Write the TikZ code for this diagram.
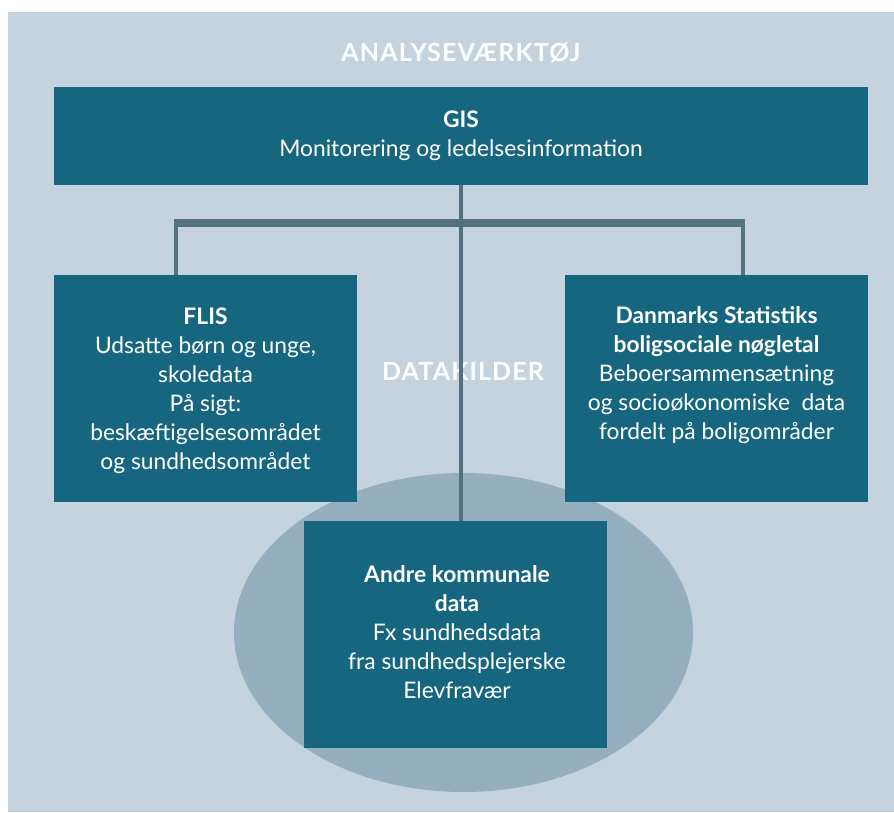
\documentclass[tikz,border=0pt]{standalone}
\usepackage{fontspec}
\setmainfont{Lato}
\newfontfamily\titlefont[LetterSpace=4.5]{Lato}
\definecolor{bgblue}{HTML}{C5D3DE}
\definecolor{boxteal}{HTML}{17667F}
\definecolor{linegrey}{HTML}{53717F}
\definecolor{ellgrey}{HTML}{94AFBD}
\tikzset{
  box/.style={fill=boxteal, draw=none, inner sep=0pt, outer sep=0pt},
  boxtext/.style={text=white, align=center, font=\fontsize{22.8}{29}\selectfont, inner sep=0pt},
  heading/.style={text=white, font=\titlefont\bfseries\fontsize{25}{28}\selectfont, inner sep=0pt},
  conn/.style={draw=linegrey, line width=4pt},
  bar/.style={draw=linegrey, line width=8pt},
}
\begin{document}
\begin{tikzpicture}[x=1pt,y=-1pt]
\useasboundingbox (0,0) rectangle (894,812);
\fill[white] (0,0) rectangle (894,812);
\fill[bgblue] (8,12) rectangle (894,812);
% ellipse
\fill[ellgrey] (463.5,632.5) ellipse [x radius=229.5, y radius=159.5];
% boxes
\node[box, minimum width=814pt, minimum height=98pt, anchor=north west] (gis) at (54,87) {};
\node[box, minimum width=303pt, minimum height=227pt, anchor=north west] (flis) at (54,275) {};
\node[box, minimum width=303pt, minimum height=227pt, anchor=north west] (dst) at (565,275) {};
\node[box, minimum width=303pt, minimum height=227pt, anchor=north west] (andre) at (304,521) {};
% headings
\node[heading] (t1) at (461,53) {ANALYSEVÆRKTØJ};
\node[heading] (t2) at (463,371) {DATAKILDER};
% connectors
\coordinate (barL) at (174,223);
\coordinate (barR) at (745,223);
\draw[bar] (barL) -- (barR);
\draw[conn] (176,223) -- (flis.north -| 176,0);
\draw[conn] (743,223) -- (dst.north -| 743,0);
\draw[conn] (gis.south) -- (andre.north -| gis.south);
% texts
\node[boxtext] (gist) at (461,136) {\textbf{GIS}\\Monitorering og ledelsesinformation};
\node[boxtext] (flist) at (205.5,391) {\textbf{FLIS}\\Udsatte børn og unge,\\skoledata\\På sigt:\\beskæftigelsesområdet\\og sundhedsområdet};
\node[boxtext] (dstt) at (716.5,375) {\textbf{Danmarks Statistiks}\\\textbf{boligsociale nøgletal}\\Beboersammensætning\\og socioøkonomiske\ \ data\\fordelt på boligområder};
\node[boxtext] (andret) at (457,632) {\textbf{Andre kommunale}\\\textbf{data}\\Fx sundhedsdata\\fra sundhedsplejerske\\Elevfravær};
\end{tikzpicture}
\end{document}
